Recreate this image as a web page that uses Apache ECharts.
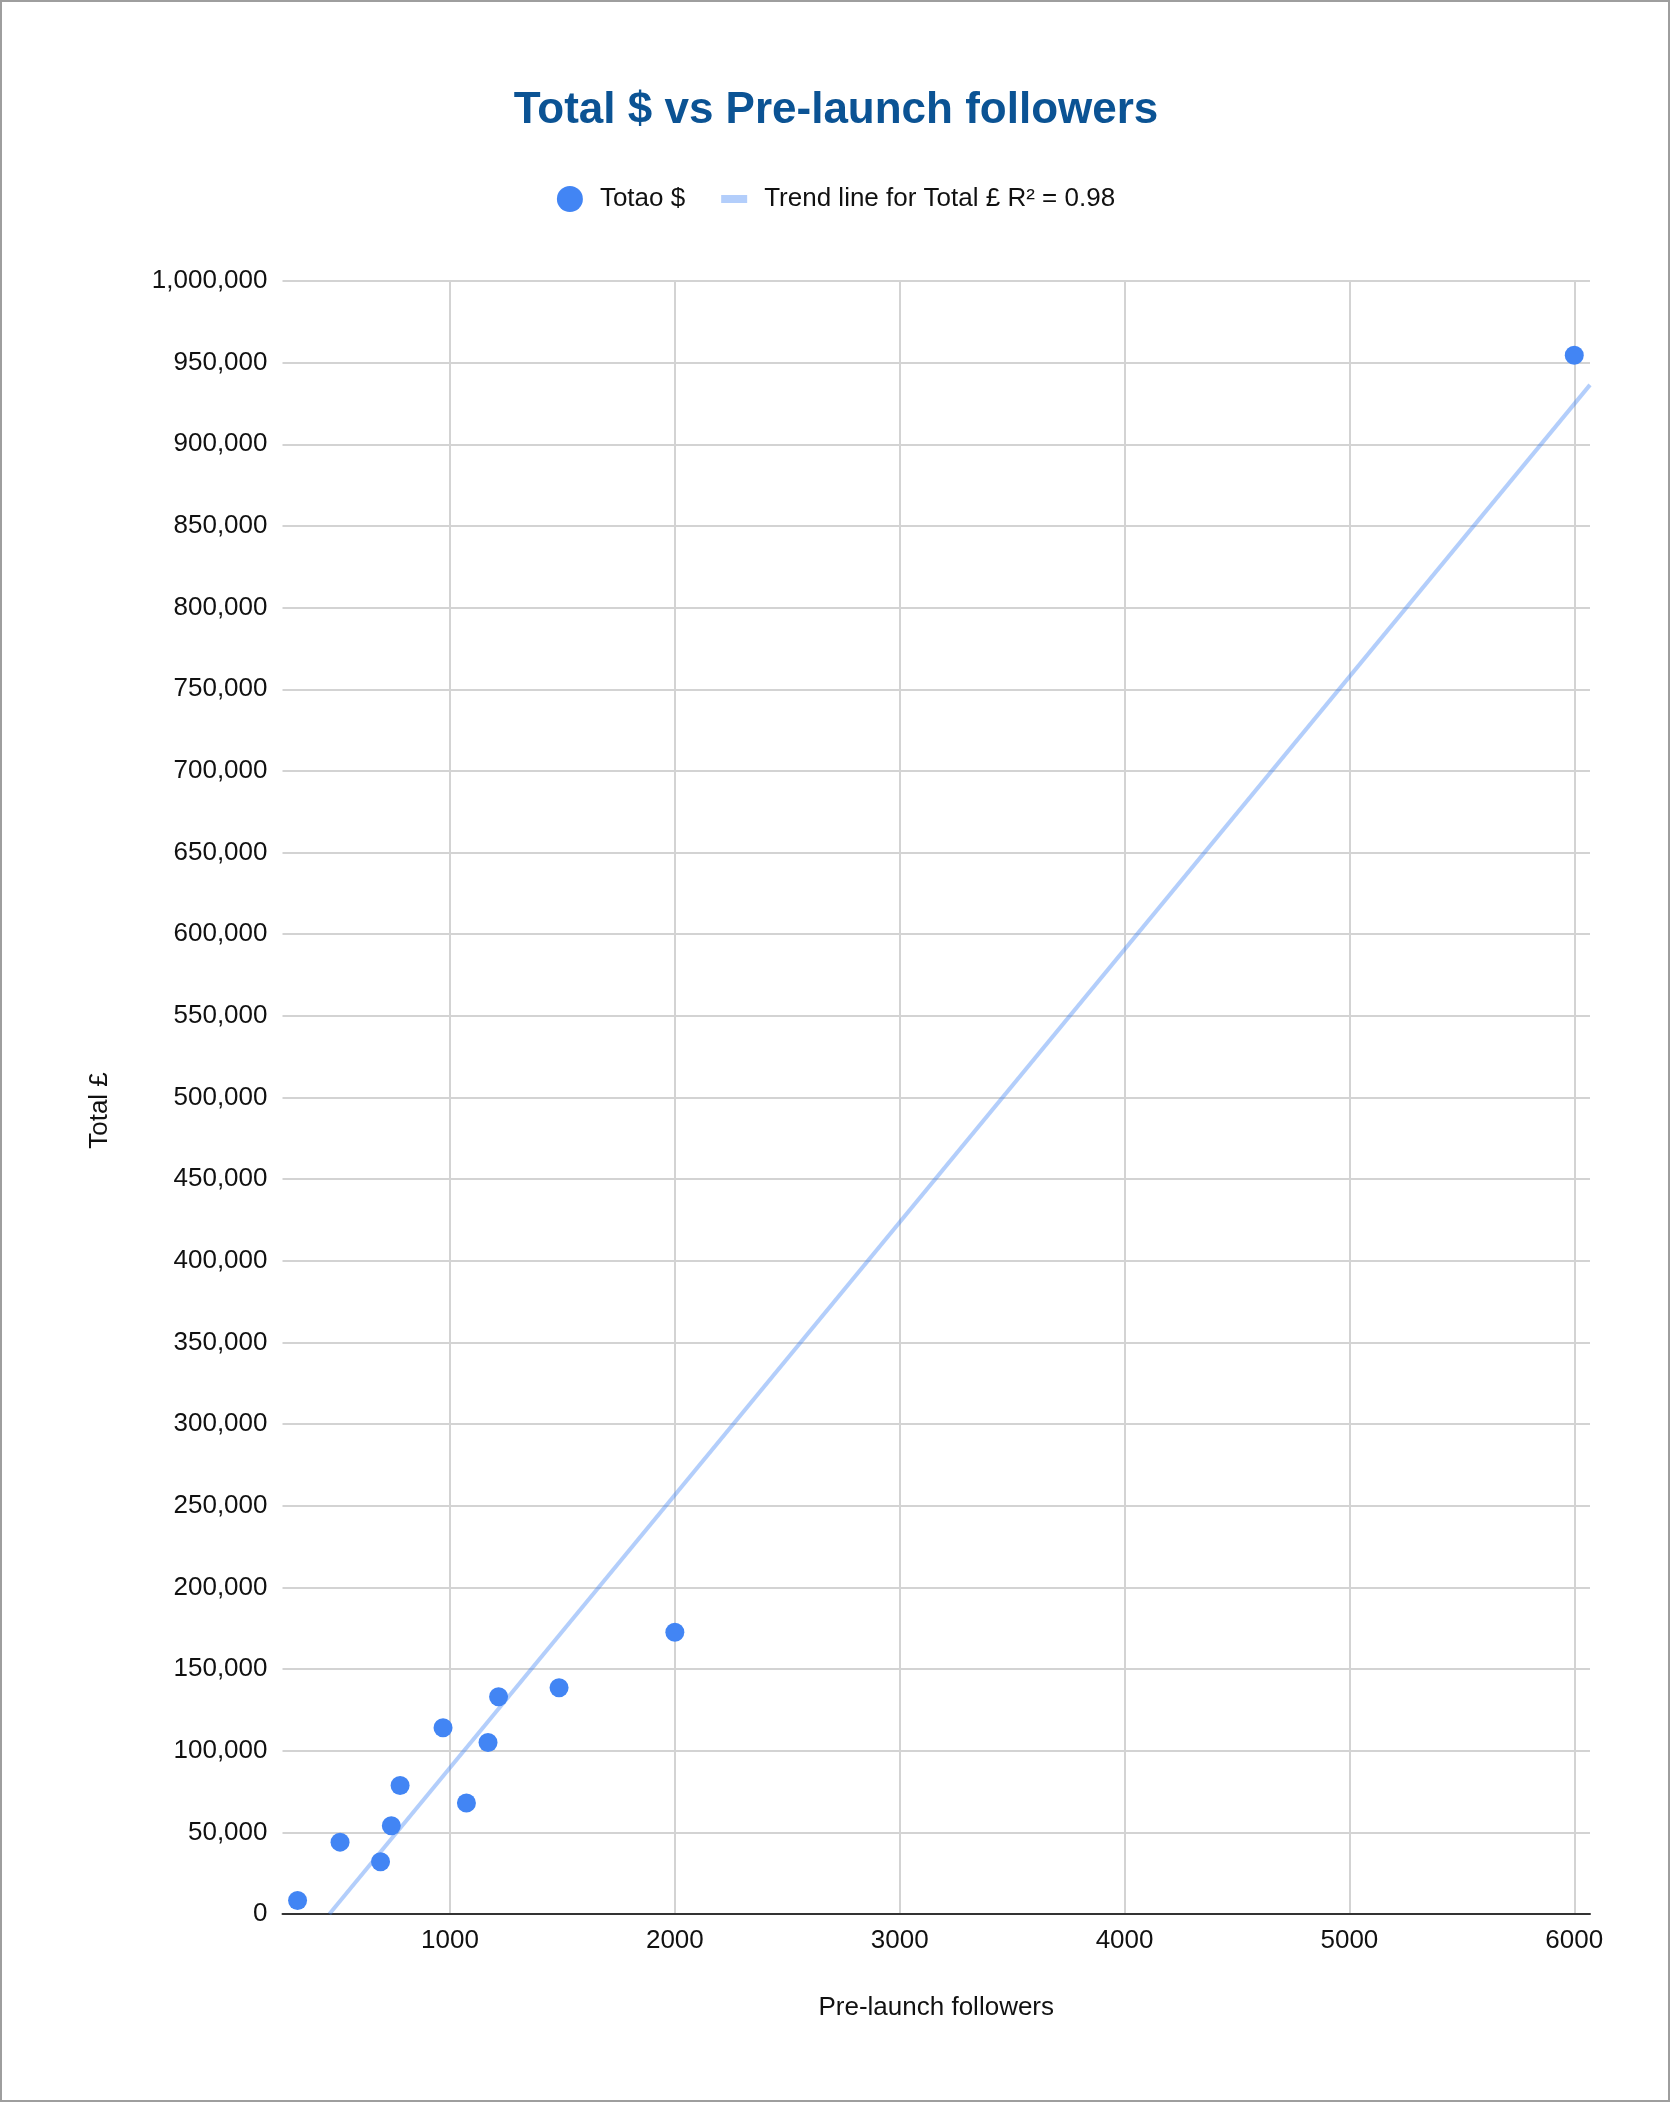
<!DOCTYPE html>
<html>
<head>
<meta charset="utf-8">
<title>Total $ vs Pre-launch followers</title>
<script src="https://cdn.jsdelivr.net/npm/echarts@6/dist/echarts.min.js"></script>
<style>
  html, body { margin: 0; padding: 0; background: #fff; }
  #chart { position: absolute; left: 0; top: 0; width: 1672px; height: 2104px; }
  #frame { position: absolute; left: 0; top: 0; width: 1670px; height: 2102px; border: 2px solid #9e9e9e; box-sizing: border-box; pointer-events: none; }
</style>
</head>
<body>
<div id="chart"></div>
<div id="frame"></div>
<script>
// ==================== 数据 ====================
const followers = [322, 511, 691, 739, 778, 969, 1073, 1169, 1216, 1485, 2000, 6000];
const totals = [8300, 44000, 32000, 54000, 78700, 114000, 68000, 105000, 133000, 138500, 172500, 954500];
const xTicks = [1000, 2000, 3000, 4000, 5000, 6000];
const xRange = [255, 6070];
const yRange = [0, 1000000];
const yStep = 50000;
const rSquared = '0.98';

const seriesName = 'Totao $';
const trendName = 'Trend line for Total £ R² = ' + rSquared;
const FONT = 'Arial, "Liberation Sans", sans-serif';
const TEXT = '#111';

// 最小二乘线性拟合（与表格的趋势线一致）
function linearFit(xs, ys) {
  const n = xs.length;
  const mx = xs.reduce((a, b) => a + b, 0) / n;
  const my = ys.reduce((a, b) => a + b, 0) / n;
  let sxy = 0, sxx = 0;
  for (let i = 0; i < n; i++) {
    sxy += (xs[i] - mx) * (ys[i] - my);
    sxx += (xs[i] - mx) * (xs[i] - mx);
  }
  const slope = sxy / sxx;
  return { slope, intercept: my - slope * mx };
}

const fit = linearFit(followers, totals);
// 趋势线从 y=0 处画到 x 轴右端
const trendStart = Math.max(xRange[0], (yRange[0] - fit.intercept) / fit.slope);
const trendData = [
  [trendStart, fit.intercept + fit.slope * trendStart],
  [xRange[1], fit.intercept + fit.slope * xRange[1]]
];
const points = followers.map((x, i) => [x, totals[i]]);

const chart = echarts.init(document.getElementById('chart'), null, { renderer: 'canvas' });

chart.setOption({
  animation: false,
  backgroundColor: '#fff',
  textStyle: { fontFamily: FONT },
  title: {
    text: 'Total $ vs Pre-launch followers',
    left: 'center',
    top: 84,
    textStyle: { fontFamily: FONT, fontSize: 44, fontWeight: 'bold', color: '#0b5394', padding: [0, 0, 0, 10] }
  },
  legend: {
    left: 'center',
    top: 181,
    itemWidth: 26,
    itemHeight: 26,
    itemGap: 36,
    symbolKeepAspect: true,
    textStyle: { fontFamily: FONT, fontSize: 26, color: TEXT, padding: [0, 0, 0, 12] },
    data: [
      { name: seriesName, icon: 'circle', itemStyle: { color: '#4285f4' } },
      { name: trendName, icon: 'path://M0,0L26,0L26,8L0,8Z', itemStyle: { color: '#b3cefb' } }
    ]
  },
  grid: { left: 282.5, right: 82, top: 281, bottom: 190, containLabel: false },
  xAxis: {
    type: 'value',
    min: xRange[0],
    max: xRange[1],
    name: 'Pre-launch followers',
    nameLocation: 'middle',
    nameGap: 81,
    nameTextStyle: { fontFamily: FONT, fontSize: 26, color: TEXT },
    axisLine: { show: true, onZero: false, lineStyle: { color: '#333', width: 2 } },
    axisTick: { show: false, customValues: xTicks },
    axisLabel: {
      customValues: xTicks, fontFamily: FONT, fontSize: 26, color: TEXT, margin: 14,
      formatter: v => String(v)
    },
    splitLine: { show: true, lineStyle: { color: '#d3d3d3', width: 2 } }
  },
  yAxis: {
    type: 'value',
    min: yRange[0],
    max: yRange[1],
    interval: yStep,
    name: 'Total £',
    nameLocation: 'middle',
    nameGap: 170,
    nameTextStyle: { fontFamily: FONT, fontSize: 26, color: TEXT, padding: [0, 26, 0, 0] },
    axisLine: { show: false },
    axisTick: { show: false },
    axisLabel: {
      fontFamily: FONT, fontSize: 26, color: TEXT, margin: 15,
      formatter: v => v.toLocaleString('en-US')
    },
    splitLine: { show: true, lineStyle: { color: '#d3d3d3', width: 2 } }
  },
  series: [
    {
      name: trendName,
      type: 'line',
      data: trendData,
      symbol: 'none',
      silent: true,
      z: 2,
      itemStyle: { color: '#b3cefb' },
      lineStyle: { color: 'rgba(66, 133, 244, 0.4)', width: 4 }
    },
    {
      name: seriesName,
      type: 'scatter',
      data: points,
      symbolSize: 19,
      z: 3,
      itemStyle: { color: '#4285f4', opacity: 1 }
    }
  ]
});
</script>
</body>
</html>
